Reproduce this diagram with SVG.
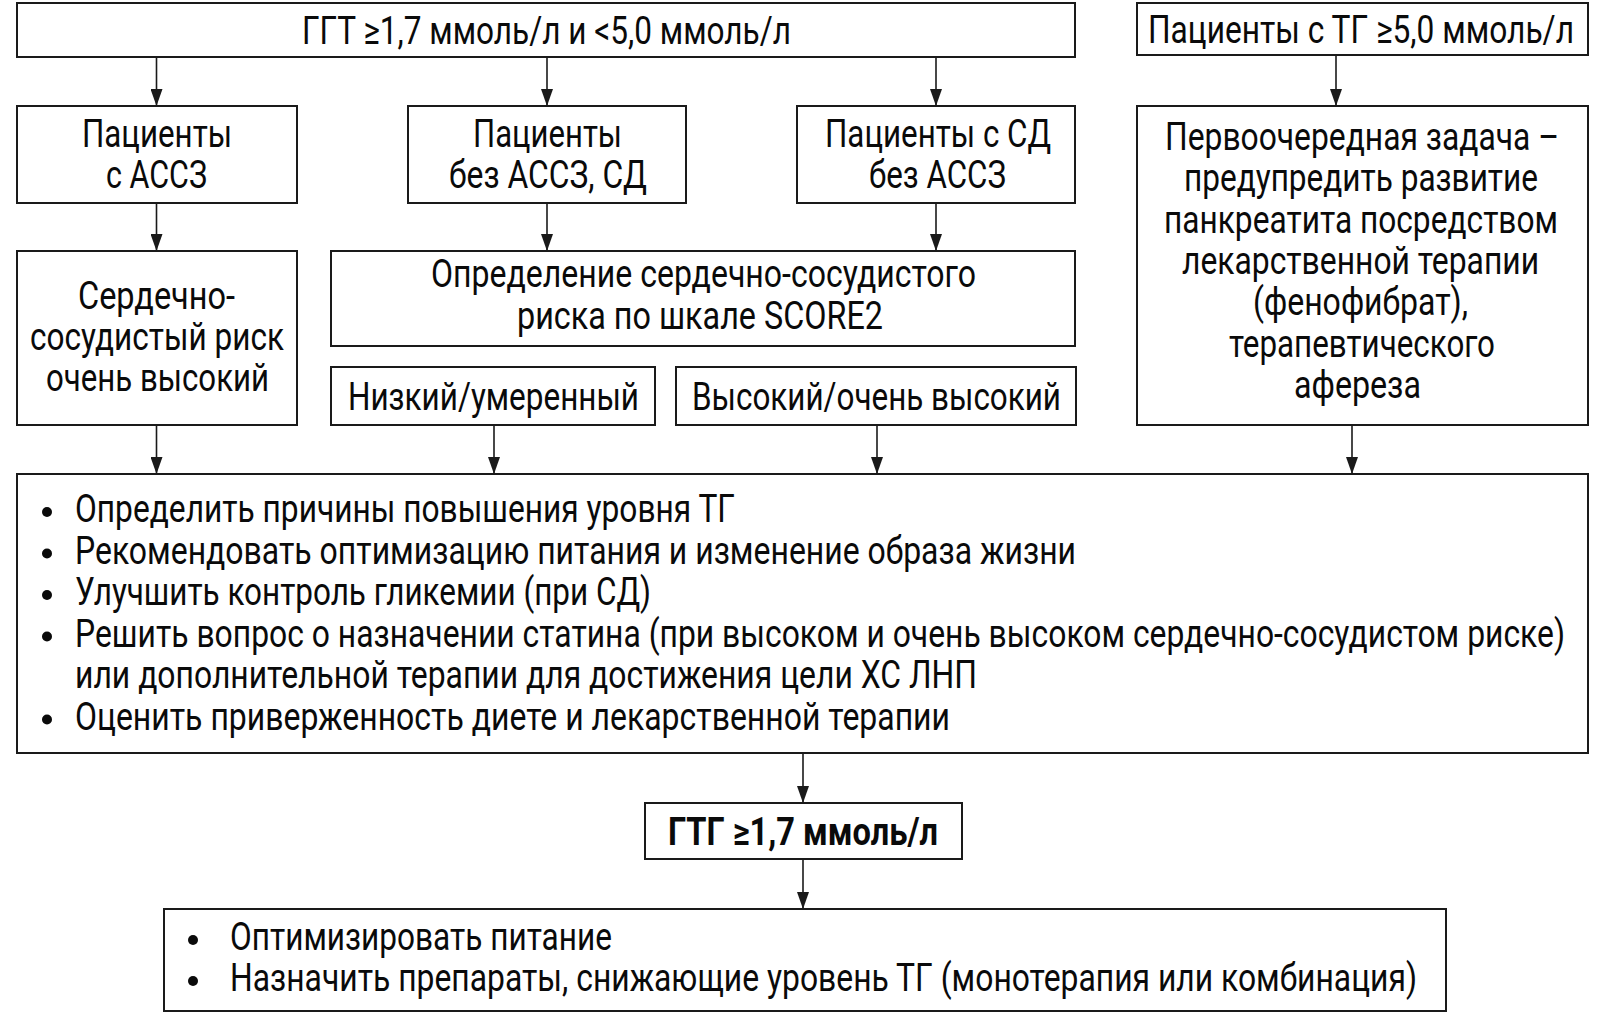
<svg xmlns="http://www.w3.org/2000/svg" width="1604" height="1013" viewBox="0 0 1604 1013">
<defs>
<style>
.box{fill:#fff;stroke:#1a1a1a;stroke-width:2}
.t{font-family:Roboto,"Liberation Sans","Noto Sans",sans-serif;font-size:39px;fill:#0a0a0a}
.b{font-weight:bold}
.c{stroke:#1a1a1a;stroke-width:1.6;fill:none}
.dot{fill:#0a0a0a}
</style>
<marker id="ah" markerUnits="userSpaceOnUse" markerWidth="12" markerHeight="18" refX="6" refY="17" orient="auto-start-reverse" viewBox="0 0 12 18">
<path d="M0,0 L12,0 L6,17 Z" fill="#1a1a1a" transform="rotate(0)"/>
</marker>
<marker id="arr" markerUnits="userSpaceOnUse" markerWidth="18" markerHeight="12" refX="17" refY="6" orient="auto" viewBox="0 0 18 12">
<path d="M0,0 L17,6 L0,12 Z" fill="#1a1a1a"/>
</marker>
</defs>
<rect width="1604" height="1013" fill="#fff"/>

<g id="connectors">
<line class="c" x1="156.5" y1="57" x2="156.5" y2="106" marker-end="url(#arr)"/>
<line class="c" x1="547" y1="57" x2="547" y2="106" marker-end="url(#arr)"/>
<line class="c" x1="936" y1="57" x2="936" y2="106" marker-end="url(#arr)"/>
<line class="c" x1="1336" y1="55" x2="1336" y2="106" marker-end="url(#arr)"/>
<line class="c" x1="156.5" y1="203" x2="156.5" y2="251" marker-end="url(#arr)"/>
<line class="c" x1="547" y1="203" x2="547" y2="251" marker-end="url(#arr)"/>
<line class="c" x1="936" y1="203" x2="936" y2="251" marker-end="url(#arr)"/>
<line class="c" x1="156.5" y1="425" x2="156.5" y2="474" marker-end="url(#arr)"/>
<line class="c" x1="494" y1="425" x2="494" y2="474" marker-end="url(#arr)"/>
<line class="c" x1="877" y1="425" x2="877" y2="474" marker-end="url(#arr)"/>
<line class="c" x1="1352" y1="425" x2="1352" y2="474" marker-end="url(#arr)"/>
<line class="c" x1="803" y1="753" x2="803" y2="803" marker-end="url(#arr)"/>
<line class="c" x1="803" y1="859" x2="803" y2="909" marker-end="url(#arr)"/>
</g>

<g id="n-top">
<rect class="box" x="17" y="3" width="1058" height="54"/>
<text class="t" x="302" y="44" textLength="489" lengthAdjust="spacingAndGlyphs">ГГТ ≥1,7 ммоль/л и &lt;5,0 ммоль/л</text>
</g>

<g id="n-tg5">
<rect class="box" x="1137" y="3" width="451" height="52"/>
<text class="t" x="1148" y="43" textLength="426" lengthAdjust="spacingAndGlyphs">Пациенты с ТГ ≥5,0 ммоль/л</text>
</g>

<g id="n-ascvd">
<rect class="box" x="17" y="106" width="280" height="97"/>
<text class="t" x="82" y="147" textLength="150" lengthAdjust="spacingAndGlyphs">Пациенты</text>
<text class="t" x="106" y="188" textLength="101" lengthAdjust="spacingAndGlyphs">с АССЗ</text>
</g>

<g id="n-noascvd">
<rect class="box" x="408" y="106" width="278" height="97"/>
<text class="t" x="473" y="147" textLength="149" lengthAdjust="spacingAndGlyphs">Пациенты</text>
<text class="t" x="449" y="188" textLength="198" lengthAdjust="spacingAndGlyphs">без АССЗ, СД</text>
</g>

<g id="n-dm">
<rect class="box" x="797" y="106" width="278" height="97"/>
<text class="t" x="825" y="147" textLength="226" lengthAdjust="spacingAndGlyphs">Пациенты с СД</text>
<text class="t" x="869" y="188" textLength="137" lengthAdjust="spacingAndGlyphs">без АССЗ</text>
</g>

<g id="n-priority">
<rect class="box" x="1137" y="106" width="451" height="319"/>
<text class="t" x="1165" y="150" textLength="394" lengthAdjust="spacingAndGlyphs">Первоочередная задача –</text>
<text class="t" x="1184" y="191" textLength="354" lengthAdjust="spacingAndGlyphs">предупредить развитие</text>
<text class="t" x="1164" y="233" textLength="394" lengthAdjust="spacingAndGlyphs">панкреатита посредством</text>
<text class="t" x="1182" y="274" textLength="357" lengthAdjust="spacingAndGlyphs">лекарственной терапии</text>
<text class="t" x="1253" y="315" textLength="215" lengthAdjust="spacingAndGlyphs">(фенофибрат),</text>
<text class="t" x="1229" y="357" textLength="266" lengthAdjust="spacingAndGlyphs">терапевтического</text>
<text class="t" x="1294" y="398" textLength="127" lengthAdjust="spacingAndGlyphs">афереза</text>
</g>

<g id="n-veryhigh">
<rect class="box" x="17" y="251" width="280" height="174"/>
<text class="t" x="78" y="309" textLength="157" lengthAdjust="spacingAndGlyphs">Сердечно-</text>
<text class="t" x="30" y="350" textLength="254" lengthAdjust="spacingAndGlyphs">сосудистый риск</text>
<text class="t" x="46" y="391" textLength="223" lengthAdjust="spacingAndGlyphs">очень высокий</text>
</g>

<g id="n-score2">
<rect class="box" x="331" y="251" width="744" height="95"/>
<text class="t" x="431" y="287" textLength="545" lengthAdjust="spacingAndGlyphs">Определение сердечно-сосудистого</text>
<text class="t" x="517" y="329" textLength="366" lengthAdjust="spacingAndGlyphs">риска по шкале SCORE2</text>
</g>

<g id="n-low">
<rect class="box" x="331" y="367" width="324" height="58"/>
<text class="t" x="348" y="410" textLength="291" lengthAdjust="spacingAndGlyphs">Низкий/умеренный</text>
</g>

<g id="n-high">
<rect class="box" x="676" y="367" width="400" height="58"/>
<text class="t" x="692" y="410" textLength="369" lengthAdjust="spacingAndGlyphs">Высокий/очень высокий</text>
</g>

<g id="n-actions">
<rect class="box" x="17" y="474" width="1571" height="279"/>
<circle class="dot" cx="47" cy="512" r="5"/>
<text class="t" x="75" y="522" textLength="660" lengthAdjust="spacingAndGlyphs">Определить причины повышения уровня ТГ</text>
<circle class="dot" cx="47" cy="553.5" r="5"/>
<text class="t" x="75" y="563.5" textLength="1001" lengthAdjust="spacingAndGlyphs">Рекомендовать оптимизацию питания и изменение образа жизни</text>
<circle class="dot" cx="47" cy="595" r="5"/>
<text class="t" x="75" y="605" textLength="576" lengthAdjust="spacingAndGlyphs">Улучшить контроль гликемии (при СД)</text>
<circle class="dot" cx="47" cy="636.5" r="5"/>
<text class="t" x="75" y="646.5" textLength="1490" lengthAdjust="spacingAndGlyphs">Решить вопрос о назначении статина (при высоком и очень высоком сердечно-сосудистом риске)</text>
<text class="t" x="75" y="688" textLength="902" lengthAdjust="spacingAndGlyphs">или дополнительной терапии для достижения цели ХС ЛНП</text>
<circle class="dot" cx="47" cy="719.5" r="5"/>
<text class="t" x="75" y="729.5" textLength="875" lengthAdjust="spacingAndGlyphs">Оценить приверженность диете и лекарственной терапии</text>
</g>

<g id="n-htg">
<rect class="box" x="645" y="803" width="317" height="56"/>
<text class="t b" x="668" y="845" textLength="270" lengthAdjust="spacingAndGlyphs">ГТГ ≥1,7 ммоль/л</text>
</g>

<g id="n-final">
<rect class="box" x="164" y="909" width="1282" height="102"/>
<circle class="dot" cx="193" cy="940" r="5"/>
<text class="t" x="230" y="950" textLength="382" lengthAdjust="spacingAndGlyphs">Оптимизировать питание</text>
<circle class="dot" cx="193" cy="981" r="5"/>
<text class="t" x="230" y="991" textLength="1187" lengthAdjust="spacingAndGlyphs">Назначить препараты, снижающие уровень ТГ (монотерапия или комбинация)</text>
</g>
</svg>
